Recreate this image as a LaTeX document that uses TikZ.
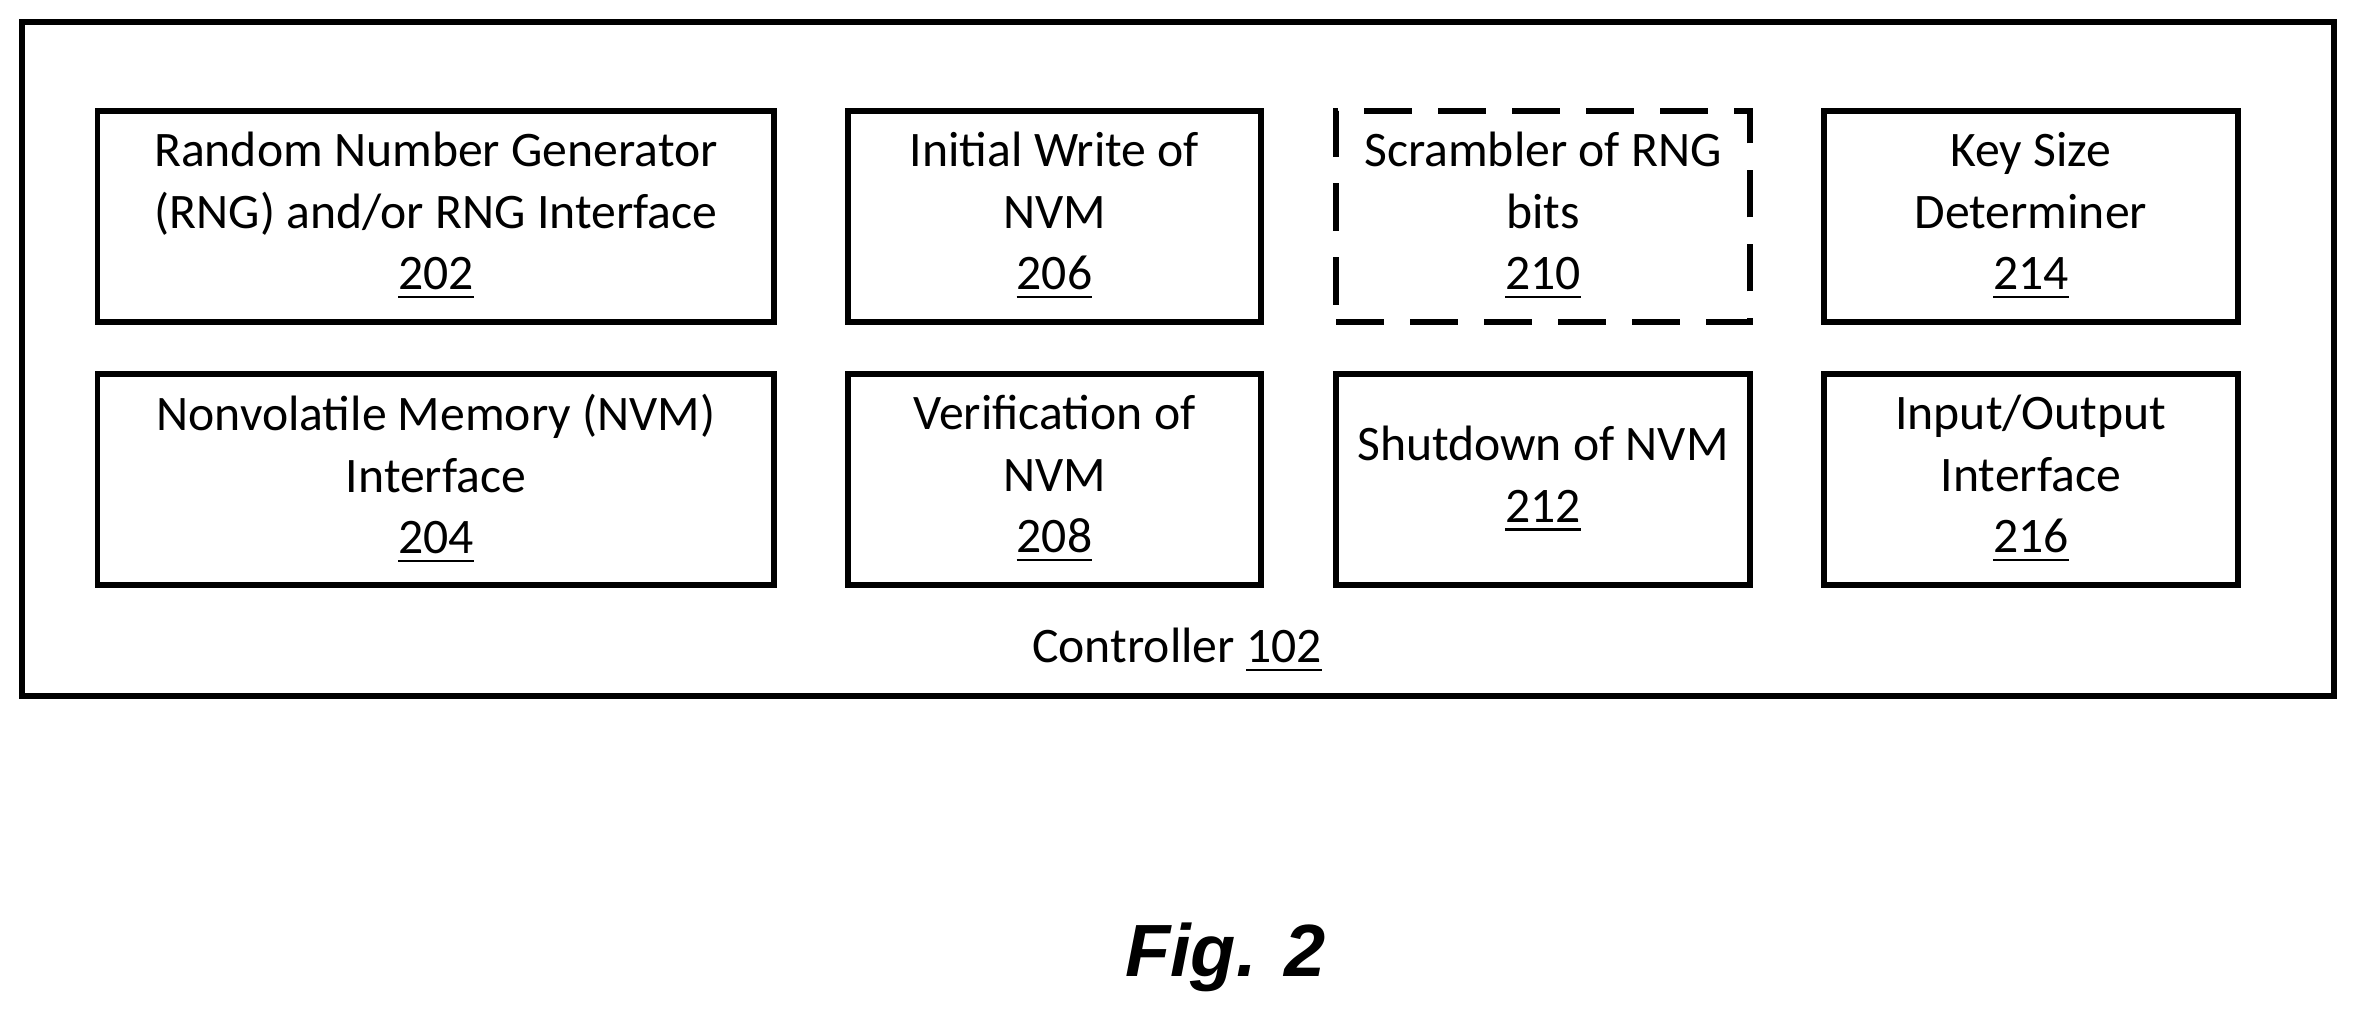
\documentclass[tikz,border=0pt]{standalone}
\usepackage{fontspec}
\setmainfont{Carlito}
\newfontfamily\figfont{Liberation Sans}
\begin{document}
\begin{tikzpicture}[x=0.01cm,y=-0.01cm,
  box/.style={draw,line width=1.1pt,minimum width=2.75cm,minimum height=1.4cm,align=center,font=\fontsize{9.4}{11.6}\selectfont,inner sep=0pt},
  wide/.style={box,minimum width=4.5cm}]
\useasboundingbox (0,0) rectangle (1568,675);
\node[draw,line width=1.1pt,minimum width=15.37cm,minimum height=4.48cm] (ctrl) at (783.5,239) {};
\node[wide] (b202) at (290,144) {Random Number Generator\\(RNG) and/or RNG Interface\\\underline{202}};
\node[box] (b206) at (701.5,144) {Initial Write of\\NVM\\\underline{206}};
\node[box,dashed,dash pattern=on 9pt off 5pt] (b210) at (1026.5,144) {Scrambler of RNG\\bits\\\underline{210}};
\node[box] (b214) at (1351,144) {Key Size\\Determiner\\\underline{214}};
\node[wide] (b204) at (290,319) {Nonvolatile Memory (NVM)\\Interface\\\underline{204}};
\node[box] (b208) at (701.5,319) {Verification of\\NVM\\\underline{208}};
\node[box] (b212) at (1026.5,319) {Shutdown of NVM\\\underline{212}};
\node[box] (b216) at (1351,319) {Input/Output\\Interface\\\underline{216}};
\node[font=\fontsize{9.4}{11.6}\selectfont] (lbl) at (783,433) {Controller \underline{102}};
\node[font=\figfont\bfseries\itshape\fontsize{14}{16}\selectfont] (fig) at (815,637) {Fig. 2};
\end{tikzpicture}
\end{document}
